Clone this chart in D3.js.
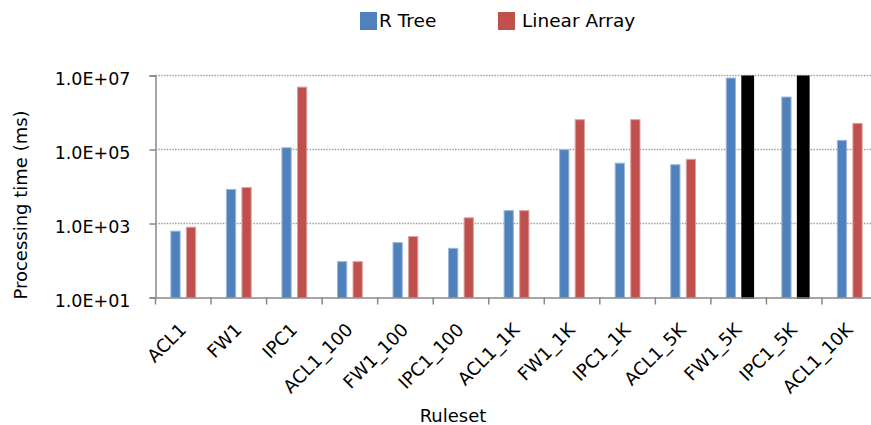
<!DOCTYPE html>
<html>
<head>
<meta charset="utf-8">
<script src="https://cdn.jsdelivr.net/npm/d3@7/dist/d3.min.js"></script>
<style>
  html, body { margin: 0; padding: 0; background: #fff; }
  svg { display: block; font-family: "DejaVu Sans", Verdana, sans-serif; }
</style>
</head>
<body>
<svg id="chart" width="871" height="425"></svg>
<script>
// ---- data ----
const categories = ["ACL1", "FW1", "IPC1", "ACL1_100", "FW1_100", "IPC1_100",
  "ACL1_1K", "FW1_1K", "IPC1_1K", "ACL1_5K", "FW1_5K", "IPC1_5K", "ACL1_10K"];
const seriesNames = ["R Tree", "Linear Array"];
const rTree = [640, 8600, 115000, 96, 315, 220, 2300, 102000, 44000, 40000, 8800000, 2700000, 182000];
const linearArray = [820, 9700, 5000000, 96, 460, 1470, 2300, 660000, 660000, 56000, 10000000, 10000000, 525000];
// categories whose Linear Array run hit the cap (drawn black)
const cappedCategories = ["FW1_5K", "IPC1_5K"];
const yTickValues = [1e1, 1e3, 1e5, 1e7];
const yTickLabels = ["1.0E+01", "1.0E+03", "1.0E+05", "1.0E+07"];
const colors = ["#4F81BD", "#C0504D"];
const edgeColors = ["#9DB8DA", "#DDA3A1"];

// ---- layout ----
const svg = d3.select("#chart");
const plotLeft = 155.5, plotTop = 75.5, plotBottom = 297.5;
const band = 55.54;
const plotRight = plotLeft + band * categories.length;

const x0 = d3.scaleBand().domain(categories).range([plotLeft, plotRight]).paddingInner(0).paddingOuter(0);
const x1 = d3.scaleBand().domain(seriesNames).range([0, x0.bandwidth()]).paddingInner(0.34).paddingOuter(0.955);
const y = d3.scaleLog().domain([10, 1e7]).range([plotBottom, plotTop]);

// gridlines
svg.append("g").selectAll("line").data(yTickValues.slice(1)).join("line")
  .attr("x1", plotLeft).attr("x2", 871)
  .attr("y1", d => y(d)).attr("y2", d => y(d))
  .attr("stroke", "#a0a0a0").attr("stroke-width", 1.5)
  .attr("stroke-dasharray", "1.5,1.3");

// bars
const rows = categories.map((c, i) => ({cat: c, vals: [rTree[i], linearArray[i]]}));
const g = svg.append("g");
rows.forEach(r => {
  r.vals.forEach((v, si) => {
    const capped = si === 1 && cappedCategories.includes(r.cat);
    const bx = x0(r.cat) + x1(seriesNames[si]);
    if (capped) {
      g.append("rect")
        .attr("x", bx).attr("y", y(v))
        .attr("width", x1.bandwidth() + 2.5)
        .attr("height", y(10) - y(v) + 1.5)
        .attr("fill", "#000");
    } else {
      g.append("rect")
        .attr("x", bx + 0.5).attr("y", y(v) + 0.5)
        .attr("width", x1.bandwidth() - 1)
        .attr("height", y(10) - y(v) - 0.5)
        .attr("fill", colors[si])
        .attr("stroke", edgeColors[si]).attr("stroke-width", 1);
    }
  });
});

// y axis
const yAxis = d3.axisLeft(y).tickValues(yTickValues)
  .tickFormat((d, i) => yTickLabels[i]).tickSize(6).tickPadding(19);
const ya = svg.append("g").attr("transform", `translate(${plotLeft},0)`).call(yAxis);
ya.select(".domain").attr("stroke", "#888").attr("stroke-width", 1.5);
ya.selectAll(".tick line").attr("stroke", "#888").attr("stroke-width", 1.5);
ya.selectAll(".tick text").attr("font-size", 17.5).attr("font-family", "DejaVu Sans")
  .attr("fill", "#000").attr("dy", "0.5em");

// x axis
const xAxis = d3.axisBottom(x0).tickSize(0).tickFormat("");
const xa = svg.append("g").attr("transform", `translate(0,${plotBottom})`).call(xAxis);
xa.select(".domain").attr("stroke", "#888").attr("stroke-width", 1.5);
xa.append("g").selectAll("line").data(categories).join("line")
  .attr("x1", d => x0(d)).attr("x2", d => x0(d))
  .attr("y1", 0).attr("y2", 7)
  .attr("stroke", "#888").attr("stroke-width", 1.5);

svg.append("g").selectAll("text").data(categories).join("text")
  .attr("transform", d => `translate(${x0(d) + x0.bandwidth() / 2 + 4},${331}) rotate(-45)`)
  .attr("text-anchor", "end")
  .attr("font-size", 18).attr("fill", "#000")
  .text(d => d);

// axis titles
svg.append("text").attr("x", 453).attr("y", 421.5).attr("text-anchor", "middle")
  .attr("font-size", 18).attr("fill", "#000").text("Ruleset");
svg.append("text").attr("transform", "translate(27,205) rotate(-90)")
  .attr("text-anchor", "middle").attr("font-size", 18).attr("fill", "#000")
  .text("Processing time (ms)");

// legend
const legendX = [360, 498];
const lg = svg.append("g").selectAll("g").data(seriesNames).join("g")
  .attr("transform", (d, i) => `translate(${legendX[i]},12)`);
lg.append("rect").attr("width", 17).attr("height", 18).attr("fill", (d, i) => colors[i]);
lg.append("text").attr("x", (d, i) => i === 0 ? 19 : 24).attr("y", 15)
  .attr("font-size", 18.5).attr("fill", "#000").text(d => d);
</script>
</body>
</html>
